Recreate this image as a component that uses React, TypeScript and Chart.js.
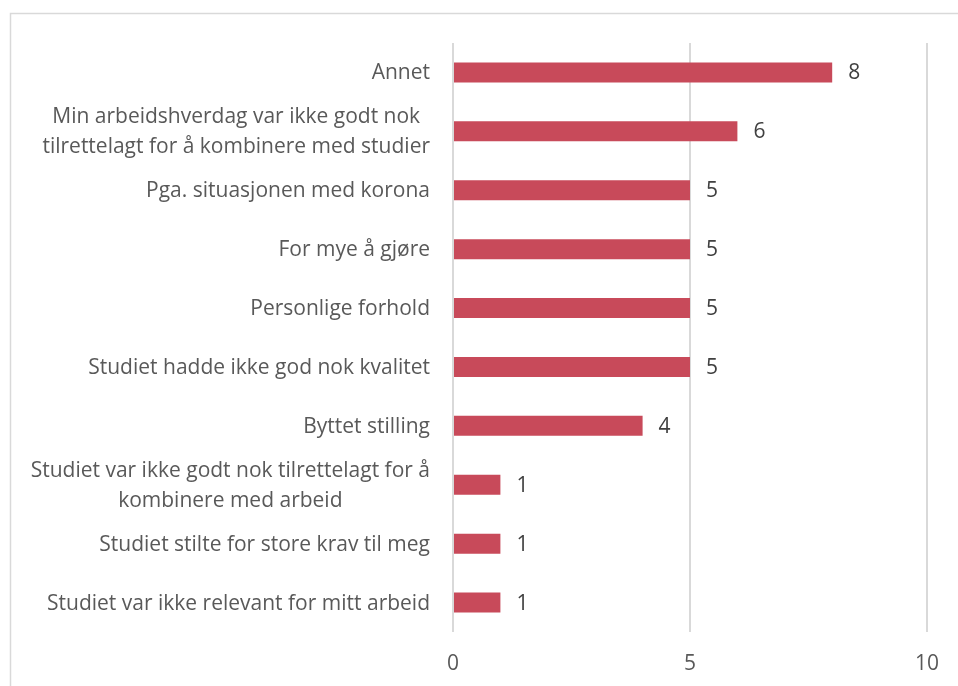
import { useEffect, useRef } from 'react';
import { Chart, registerables } from 'chart.js';

Chart.register(...registerables);

const categories: string[][] = [
  ['Annet'],
  ['Min arbeidshverdag var ikke godt nok', 'tilrettelagt for å kombinere med studier'],
  ['Pga. situasjonen med korona'],
  ['For mye å gjøre'],
  ['Personlige forhold'],
  ['Studiet hadde ikke god nok kvalitet'],
  ['Byttet stilling'],
  ['Studiet var ikke godt nok tilrettelagt for å', 'kombinere med arbeid'],
  ['Studiet stilte for store krav til meg'],
  ['Studiet var ikke relevant for mitt arbeid'],
];
const values = [8, 6, 5, 5, 5, 5, 4, 1, 1, 1];
const xMin = 0;
const xMax = 10;
const xStep = 5;

const FONT = '"Open Sans", sans-serif';
const FONT_SIZE = 21;
const TEXT = '#595959';
const BAR = '#C84A5A';
const GRID = '#d9d9d9';

export default function App() {
  const ref = useRef<HTMLCanvasElement>(null);
  useEffect(() => {
    document.body.style.margin = '0';
    const canvas = ref.current!;
    const framePlugin = {
      id: 'frame',
      beforeDraw(chart: any) {
        const ctx = chart.ctx;
        ctx.save();
        ctx.fillStyle = '#ffffff';
        ctx.fillRect(0, 0, chart.width, chart.height);
        ctx.strokeStyle = GRID;
        ctx.lineWidth = 1.5;
        ctx.strokeRect(10.5, 13.5, 1000, 1000);
        ctx.restore();
      },
    };
    const yLabelPlugin = {
      id: 'yLabels',
      afterDraw(chart: any) {
        const ctx = chart.ctx;
        const ys = chart.scales.y;
        ctx.save();
        ctx.font = `${FONT_SIZE}px ${FONT}`;
        ctx.fillStyle = TEXT;
        ctx.textAlign = 'center';
        ctx.textBaseline = 'middle';
        const lh = 30;
        const rightX = chart.chartArea.left - 23;
        categories.forEach((lines, i) => {
          const y = ys.getPixelForValue(i) + 1;
          const w = Math.max(...lines.map((l) => ctx.measureText(l).width));
          const cx = rightX - w / 2;
          lines.forEach((l, j) => {
            ctx.fillText(l, cx, y + (j - (lines.length - 1) / 2) * lh);
          });
        });
        ctx.restore();
      },
    };
    const valuePlugin = {
      id: 'values',
      afterDatasetsDraw(chart: any) {
        const ctx = chart.ctx;
        const meta = chart.getDatasetMeta(0);
        ctx.save();
        ctx.font = `${FONT_SIZE}px ${FONT}`;
        ctx.fillStyle = '#404040';
        ctx.textAlign = 'left';
        ctx.textBaseline = 'middle';
        meta.data.forEach((bar: any, i: number) => {
          ctx.fillText(String(values[i]), bar.x + 16, bar.y + 1);
        });
        ctx.restore();
      },
    };
    const chart = new Chart(canvas, {
      type: 'bar',
      data: {
        labels: categories.map((c) => c.join(' ')),
        datasets: [
          {
            data: values,
            backgroundColor: BAR,
            borderWidth: 0,
            categoryPercentage: 1,
            barPercentage: 0.34,
          },
        ],
      },
      options: {
        indexAxis: 'y',
        responsive: false,
        animation: false,
        layout: { padding: { top: 43, right: 30, left: 0, bottom: 0 } },
        plugins: { legend: { display: false }, tooltip: { enabled: false } },
        scales: {
          x: {
            min: xMin,
            max: xMax,
            ticks: {
              stepSize: xStep,
              color: TEXT,
              font: { family: FONT, size: FONT_SIZE },
              padding: 19,
              maxRotation: 0,
            },
            grid: { color: GRID, lineWidth: 2, drawTicks: false },
            border: { display: false },
            afterFit(scale: any) {
              scale.height = 54;
            },
          },
          y: {
            ticks: { display: false },
            grid: { display: false },
            border: { display: false },
            afterFit(scale: any) {
              scale.width = 453;
            },
          },
        },
      },
      plugins: [framePlugin, yLabelPlugin, valuePlugin],
    });
    return () => chart.destroy();
  }, []);
  return <canvas ref={ref} width={958} height={686} style={{ display: 'block' }} />;
}
